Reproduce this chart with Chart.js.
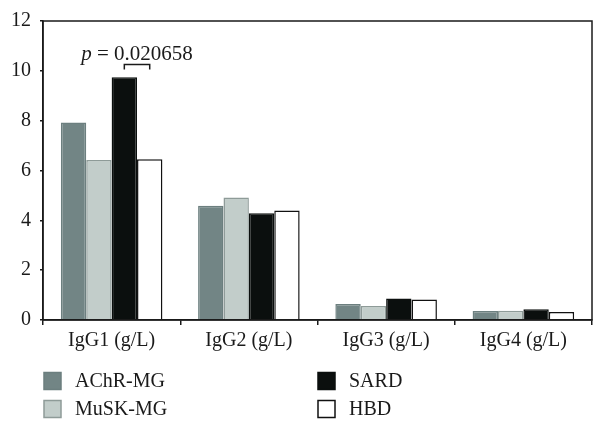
<!DOCTYPE html>
<html>
<head>
<meta charset="utf-8">
<script src="https://cdn.jsdelivr.net/npm/chart.js@4/dist/chart.umd.min.js"></script>
<style>
    html, body { margin: 0; padding: 0; background: #fff; }
    #wrap { width: 607px; height: 431px; position: relative; }
</style>
</head>
<body>
<div id="wrap"><canvas id="chart" width="607" height="431"></canvas></div>
<script>
var categories = ['IgG1 (g/L)', 'IgG2 (g/L)', 'IgG3 (g/L)', 'IgG4 (g/L)'];
var achrMG = [7.93, 4.59, 0.64, 0.36];
var muskMG = [6.42, 4.92, 0.56, 0.37];
var sard = [9.74, 4.28, 0.86, 0.43];
var hbd = [6.45, 4.39, 0.82, 0.32];
var yTicks = [0, 2, 4, 6, 8, 10, 12];
var pLabel = '0.020658';
var pBracketValue = 10.25;

var serif = '"Liberation Serif", "DejaVu Serif", serif';
var ink = '#1a1a1a';

Chart.defaults.font.family = serif;
Chart.defaults.font.size = 20;
Chart.defaults.color = ink;

// frame round the plot area (top and right sides too)
var framePlugin = {
    id: 'frame',
    afterDatasetsDraw: function (chart) {
        var a = chart.chartArea, ctx = chart.ctx;
        ctx.save();
        ctx.strokeStyle = ink;
        ctx.lineWidth = 1.5;
        ctx.strokeRect(a.left, a.top, a.right - a.left, a.bottom - a.top);
        ctx.restore();
    }
};

// p-value bracket between SARD and HBD of IgG1
var pValuePlugin = {
    id: 'pValue',
    afterDatasetsDraw: function (chart) {
        var ctx = chart.ctx;
        var x1 = chart.getDatasetMeta(2).data[0].x;
        var x2 = chart.getDatasetMeta(3).data[0].x;
        var yTop = chart.scales.y.getPixelForValue(pBracketValue);
        ctx.save();
        ctx.strokeStyle = ink;
        ctx.lineWidth = 1.5;
        ctx.beginPath();
        ctx.moveTo(x1, yTop + 5);
        ctx.lineTo(x1, yTop);
        ctx.lineTo(x2, yTop);
        ctx.lineTo(x2, yTop + 5);
        ctx.stroke();

        var italic = 'italic 21px ' + serif;
        var normal = '21px ' + serif;
        var rest = ' = ' + pLabel;
        ctx.font = italic;
        var wp = ctx.measureText('p').width;
        ctx.font = normal;
        var wr = ctx.measureText(rest).width;
        var cx = (x1 + x2) / 2;
        var start = cx - (wp + wr) / 2;
        var base = yTop - 5;
        ctx.fillStyle = ink;
        ctx.textBaseline = 'alphabetic';
        ctx.font = italic;
        ctx.fillText('p', start, base);
        ctx.font = normal;
        ctx.fillText(rest, start + wp, base);
        ctx.restore();
    }
};

// two-column legend under the axis
var legendPlugin = {
    id: 'twoColLegend',
    afterDraw: function (chart) {
        var ctx = chart.ctx;
        var cols = [44, 318];
        var rows = [381, 409];
        var box = 17;
        ctx.save();
        ctx.font = '20px ' + serif;
        ctx.textBaseline = 'middle';
        chart.data.datasets.forEach(function (ds, i) {
            var x = cols[Math.floor(i / 2)];
            var y = rows[i % 2];
            ctx.fillStyle = ds.backgroundColor;
            ctx.fillRect(x, y - box / 2, box, box);
            ctx.strokeStyle = ds.borderColor;
            ctx.lineWidth = 1.5;
            ctx.strokeRect(x, y - box / 2, box, box);
            ctx.fillStyle = ink;
            ctx.fillText(ds.label, x + 31, y + 1);
        });
        ctx.restore();
    }
};

function series(label, data, fill, border) {
    return {
        label: label,
        data: data,
        backgroundColor: fill,
        borderColor: border,
        borderWidth: 1.5,
        borderSkipped: 'bottom',
        barPercentage: 1,
        categoryPercentage: 0.74
    };
}

new Chart(document.getElementById('chart'), {
    type: 'bar',
    data: {
        labels: categories,
        datasets: [
            series('AChR-MG', achrMG, '#728585', '#6c7f7f'),
            series('MuSK-MG', muskMG, '#c2cdca', '#8e9b98'),
            series('SARD', sard, '#0b0f0e', '#0b0f0e'),
            series('HBD', hbd, '#ffffff', '#111111')
        ]
    },
    options: {
        responsive: false,
        animation: false,
        layout: { padding: { top: 19, right: 15, bottom: 71, left: 0 } },
        plugins: {
            legend: { display: false },
            tooltip: { enabled: false }
        },
        scales: {
            x: {
                grid: {
                    offset: true,
                    drawOnChartArea: false,
                    drawTicks: true,
                    tickLength: 5,
                    color: ink,
                    lineWidth: 1.5
                },
                border: { display: true, color: ink, width: 1.5 },
                ticks: { padding: 4, color: ink, font: { size: 20 } },
                afterFit: function (s) { s.height = 40; }
            },
            y: {
                min: 0,
                max: 12,
                afterBuildTicks: function (s) {
                    s.ticks = yTicks.map(function (v) { return { value: v }; });
                },
                grid: {
                    drawOnChartArea: false,
                    drawTicks: true,
                    tickLength: 3,
                    color: ink,
                    lineWidth: 1.5
                },
                border: { display: true, color: ink, width: 1.5 },
                ticks: { padding: 9, color: ink, font: { size: 20 } },
                afterFit: function (s) { s.width = 43; }
            }
        }
    },
    plugins: [framePlugin, pValuePlugin, legendPlugin]
});
</script>
</body>
</html>
